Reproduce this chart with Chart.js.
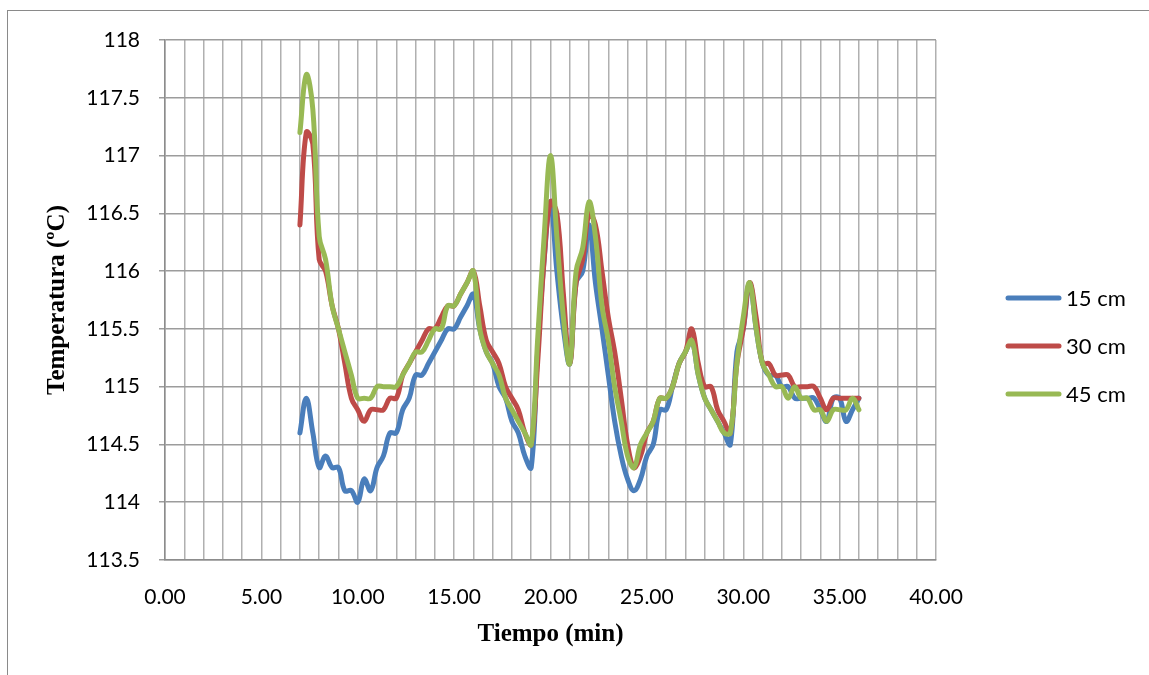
<!DOCTYPE html>
<html>
<head>
<meta charset="utf-8">
<script src="https://cdn.jsdelivr.net/npm/chart.js@4.4.0/dist/chart.umd.min.js"></script>
<style>
  html, body { margin: 0; padding: 0; background: #fff; }
  #wrap { position: relative; width: 1149px; height: 675px; overflow: hidden; }
  #frame { position: absolute; left: 7px; top: 10px; width: 1200px; height: 700px; border: 1px solid #8a8a8a; }
  #plot { position: absolute; left: 0; top: 0; }
</style>
</head>
<body>
<div id="wrap">
  <div id="frame"></div>
  <canvas id="plot" width="1149" height="675"></canvas>
</div>
<script>
// tiempo en minutos (lecturas cada 20 s)
const tiempo = [
  7.00, 7.33, 7.67, 8.00, 8.33, 8.67, 9.00, 9.33, 9.67, 10.00,
  10.33, 10.67, 11.00, 11.33, 11.67, 12.00, 12.33, 12.67, 13.00, 13.33,
  13.67, 14.00, 14.33, 14.67, 15.00, 15.33, 15.67, 16.00, 16.33, 16.67,
  17.00, 17.33, 17.67, 18.00, 18.33, 18.67, 19.00, 19.33, 19.67, 20.00,
  20.33, 20.67, 21.00, 21.33, 21.67, 22.00, 22.33, 22.67, 23.00, 23.33,
  23.67, 24.00, 24.33, 24.67, 25.00, 25.33, 25.67, 26.00, 26.33, 26.67,
  27.00, 27.33, 27.67, 28.00, 28.33, 28.67, 29.00, 29.33, 29.67, 30.00,
  30.33, 30.67, 31.00, 31.33, 31.67, 32.00, 32.33, 32.67, 33.00, 33.33,
  33.67, 34.00, 34.33, 34.67, 35.00, 35.33, 35.67, 36.00
];

const temp15 = [
  114.6, 114.9, 114.6, 114.3, 114.4, 114.3, 114.3, 114.1, 114.1, 114.0,
  114.2, 114.1, 114.3, 114.4, 114.6, 114.6, 114.8, 114.9, 115.1, 115.1,
  115.2, 115.3, 115.4, 115.5, 115.5, 115.6, 115.7, 115.8, 115.5, 115.3,
  115.2, 115.0, 114.9, 114.7, 114.6, 114.4, 114.3, 115.3, 116.1, 116.6,
  116.0, 115.5, 115.2, 115.9, 116.0, 116.4, 115.9, 115.5, 115.1, 114.7,
  114.4, 114.2, 114.1, 114.2, 114.4, 114.5, 114.8, 114.8, 115.0, 115.2,
  115.3, 115.4, 115.1, 114.9, 114.8, 114.7, 114.6, 114.5, 115.3, 115.5,
  115.9, 115.5, 115.2, 115.1, 115.1, 115.0, 115.0, 114.9, 114.9, 114.9,
  114.9, 114.8, 114.7, 114.9, 114.9, 114.7, 114.8, 114.9
];

const temp30 = [
  116.4, 117.2, 117.1, 116.1, 116.0, 115.7, 115.5, 115.2, 114.9, 114.8,
  114.7, 114.8, 114.8, 114.8, 114.9, 114.9, 115.1, 115.2, 115.3, 115.4,
  115.5, 115.5, 115.6, 115.7, 115.7, 115.8, 115.9, 116.0, 115.7, 115.4,
  115.3, 115.2, 115.0, 114.9, 114.8, 114.6, 114.5, 115.2, 116.1, 116.6,
  116.5, 115.8, 115.2, 115.9, 116.1, 116.5, 116.4, 116.0, 115.6, 115.3,
  114.9, 114.5, 114.3, 114.4, 114.6, 114.7, 114.9, 114.9, 115.0, 115.2,
  115.3, 115.5, 115.2, 115.0, 115.0, 114.8, 114.7, 114.6, 115.2, 115.5,
  115.9, 115.6, 115.2, 115.2, 115.1, 115.1, 115.1, 115.0, 115.0, 115.0,
  115.0, 114.9, 114.8, 114.9, 114.9, 114.9, 114.9, 114.9
];

const temp45 = [
  117.2, 117.7, 117.4, 116.3, 116.1, 115.7, 115.5, 115.3, 115.1, 114.9,
  114.9, 114.9, 115.0, 115.0, 115.0, 115.0, 115.1, 115.2, 115.3, 115.3,
  115.4, 115.5, 115.5, 115.7, 115.7, 115.8, 115.9, 116.0, 115.5, 115.3,
  115.2, 115.1, 114.9, 114.8, 114.7, 114.6, 114.5, 115.4, 116.3, 117.0,
  116.3, 115.6, 115.2, 116.0, 116.2, 116.6, 116.3, 115.7, 115.4, 115.0,
  114.7, 114.4, 114.3, 114.5, 114.6, 114.7, 114.9, 114.9, 115.0, 115.2,
  115.3, 115.4, 115.1, 114.9, 114.8, 114.7, 114.6, 114.6, 115.2, 115.6,
  115.9, 115.5, 115.2, 115.1, 115.0, 115.0, 114.9, 115.0, 114.9, 114.9,
  114.8, 114.8, 114.7, 114.8, 114.8, 114.8, 114.9, 114.8
];

const seriesNames = ['15 cm', '30 cm', '45 cm'];
const seriesValues = [temp15, temp30, temp45];
const seriesColors = ['#4a7ebb', '#be4b48', '#98b954'];

// legend drawn to the right of the plot, one short line per series
const sideLegend = {
  id: 'sideLegend',
  afterDraw(chart) {
    const ctx = chart.ctx;
    ctx.save();
    chart.data.datasets.forEach((ds, i) => {
      const y = 298 + i * 48;
      ctx.strokeStyle = ds.borderColor;
      ctx.lineWidth = 5;
      ctx.lineCap = 'round';
      ctx.beginPath();
      ctx.moveTo(1008, y);
      ctx.lineTo(1059, y);
      ctx.stroke();
      ctx.fillStyle = '#000';
      ctx.font = '22px Lato';
      ctx.textAlign = 'left';
      ctx.textBaseline = 'middle';
      ctx.fillText(ds.label, 1066, y + 1);
    });
    ctx.restore();
  }
};

const datasets = seriesNames.map((name, i) => ({
  label: name,
  data: tiempo.map((t, k) => ({ x: t, y: seriesValues[i][k] })),
  borderColor: seriesColors[i],
  backgroundColor: seriesColors[i],
  borderWidth: 5,
  borderCapStyle: 'round',
  borderJoinStyle: 'round',
  pointRadius: 0,
  tension: 0.4,
  fill: false,
  order: 3 - i
}));

const ctx = document.getElementById('plot').getContext('2d');
new Chart(ctx, {
  type: 'line',
  data: { datasets: datasets },
  options: {
    responsive: false,
    animation: false,
    layout: { padding: { top: 40, right: 213, bottom: 0, left: 0 } },
    plugins: {
      legend: { display: false },
      tooltip: { enabled: false }
    },
    scales: {
      x: {
        type: 'linear',
        min: 0,
        max: 40,
        afterFit: (scale) => { scale.height = 115; },
        grid: { color: '#b0b0b0', lineWidth: 1.5, drawTicks: false },
        border: { color: '#8c8c8c', width: 1.5 },
        ticks: {
          stepSize: 1,
          maxTicksLimit: 100,
          autoSkip: false,
          maxRotation: 0,
          padding: 25,
          color: '#000',
          font: { family: 'Lato', size: 21 },
          callback: (v) => (v % 5 === 0 ? v.toFixed(2) : '')
        },
        title: {
          display: true,
          text: 'Tiempo (min)',
          color: '#000',
          font: { family: 'Liberation Serif', size: 25, weight: 'bold' },
          padding: { top: 0, bottom: 25 }
        }
      },
      y: {
        min: 113.5,
        max: 118,
        afterFit: (scale) => { scale.width = 165; },
        grid: { color: '#9c9c9c', lineWidth: 1.5, tickLength: 6 },
        border: { color: '#8c8c8c', width: 1.5 },
        ticks: {
          stepSize: 0.5,
          padding: 19,
          color: '#000',
          font: { family: 'Lato', size: 21 },
          callback: (v) => String(Math.round(v * 10) / 10)
        },
        title: {
          display: true,
          text: 'Temperatura (ºC)',
          color: '#000',
          font: { family: 'Liberation Serif', size: 25, weight: 'bold' },
          padding: { top: 43, bottom: 0 }
        }
      }
    }
  },
  plugins: [sideLegend]
});
</script>
</body>
</html>
